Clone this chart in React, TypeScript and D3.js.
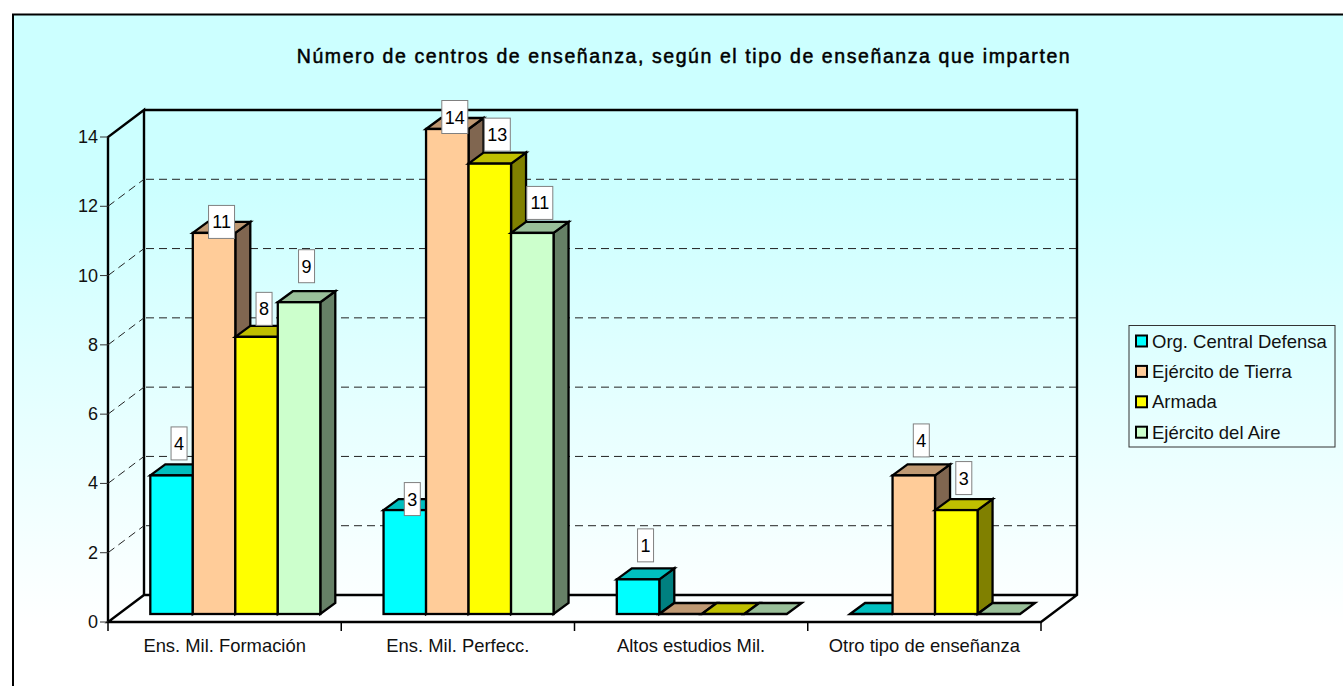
import React from "react";
import * as d3 from "d3";

const categories = ["Ens. Mil. Formación", "Ens. Mil. Perfecc.", "Altos estudios Mil.", "Otro tipo de enseñanza"];
const seriesNames = ["Org. Central Defensa", "Ejército de Tierra", "Armada", "Ejército del Aire"];
const orgCentral = [4, 3, 1, 0];
const tierra = [11, 14, 0, 4];
const armada = [8, 13, 0, 3];
const aire = [9, 11, 0, 0];
const yTicks = [0, 2, 4, 6, 8, 10, 12, 14];
const title = "Número de centros de enseñanza, según el tipo de enseñanza que imparten";

const seriesValues = [orgCentral, tierra, armada, aire];
const faceColors = ["#00FFFF", "#FFCC99", "#FFFF00", "#CCFFCC"];
const topColors = ["#00BFBF", "#BF9973", "#BFBF00", "#99BF99"];
const sideColors = ["#008080", "#806650", "#808000", "#668066"];
// Manual label lifts above the bar's front-top edge, [series][category]
const labelLift = [
  [32, 11, 34, 0],
  [11, 12, 0, 35],
  [28, 29, 0, 32],
  [36, 30, 0, 0],
];

const FONT = "'Liberation Sans', Arial, sans-serif";
const W = 1343, H = 686;
const left = 108, right = 1041, floorY = 622, topY = 137;
const depthX = 36, depthY = 27;
const barDX = 15, barDY = 11;

export default function App() {
  const x = d3.scaleBand<number>().domain(d3.range(categories.length)).range([left, right]);
  const inner = d3.scaleBand<number>().domain(d3.range(seriesNames.length))
    .range([42.3, 212.3]);
  const y = d3.scaleLinear().domain([0, 14]).range([floorY, topY]);
  const barBase = floorY - 8;
  const h = (v: number) => floorY - y(v);
  const poly = d3.line<[number, number]>();

  const bars: React.ReactNode[] = [];
  const labels: React.ReactNode[] = [];
  categories.forEach((_, c) => {
    seriesValues.forEach((vals, s) => {
      const v = vals[c];
      const x0 = x(c)! + inner(s)!;
      const bw = inner.bandwidth();
      const yt = barBase - h(v);
      bars.push(
        <g key={`${c}-${s}`} stroke="#000" strokeWidth={2.3} strokeLinejoin="miter">
          {v > 0 && <path d={poly([[x0 + bw, yt], [x0 + bw + barDX, yt - barDY], [x0 + bw + barDX, barBase - barDY], [x0 + bw, barBase]])! + "Z"} fill={sideColors[s]} />}
          <path d={poly([[x0, yt], [x0 + barDX, yt - barDY], [x0 + bw + barDX, yt - barDY], [x0 + bw, yt]])! + "Z"} fill={topColors[s]} />
          {v > 0 && <rect x={x0} y={yt} width={bw} height={h(v)} fill={faceColors[s]} />}
        </g>
      );
      if (v > 0) {
        const cx = x0 + bw / 2 + barDX / 2;
        const cy = yt - labelLift[s][c];
        const bwid = String(v).length > 1 ? 26 : 16;
        labels.push(
          <g key={`l${c}-${s}`}>
            <rect x={cx - bwid / 2} y={cy - 16.5} width={bwid} height={33} fill="#fff" stroke="#808080" strokeWidth={1} />
            <text x={cx} y={cy + 6.5} textAnchor="middle" fontSize={18} fill="#000">{v}</text>
          </g>
        );
      }
    });
  });

  return (
    <svg width={W} height={H} style={{ position: "absolute", left: 0, top: 0, display: "block" }} fontFamily={FONT}>
      <defs>
        <linearGradient id="bg" x1="0" y1="0" x2="0" y2="1">
          <stop offset="0" stopColor="#CCFFFF" />
          <stop offset="0.25" stopColor="#CCFFFF" />
          <stop offset="0.88" stopColor="#FFFFFF" />
          <stop offset="1" stopColor="#FFFFFF" />
        </linearGradient>
      </defs>
      <rect x={13} y={14.5} width={W + 10} height={H + 10} fill="url(#bg)" stroke="#000" strokeWidth={2} />
      <text x={684} y={63} textAnchor="middle" fontSize={19.5} letterSpacing={1.58} stroke="#000" strokeWidth={0.5}>{title}</text>

      {/* walls */}
      <g stroke="#000" strokeWidth={2.4} fill="none">
        <path d={poly([[left, floorY], [left, topY], [left + depthX, topY - depthY], [left + depthX, floorY - depthY]])!} />
        <path d={poly([[left + depthX, topY - depthY], [right + depthX, topY - depthY], [right + depthX, floorY - depthY], [right, floorY], [left, floorY], [left + depthX, floorY - depthY], [right + depthX, floorY - depthY]])!} />
      </g>
      {/* gridlines */}
      <g stroke="#222" strokeWidth={1} strokeDasharray="8 5" fill="none">
        {yTicks.slice(1, -1).map(t => (
          <g key={t}>
            <line x1={left + depthX + 2} x2={right + depthX - 1} y1={y(t) - depthY} y2={y(t) - depthY} />
            <line x1={left} y1={y(t)} x2={left + depthX} y2={y(t) - depthY} />
          </g>
        ))}
      </g>
      {/* ticks */}
      <g stroke="#333" strokeWidth={1}>
        {yTicks.map(t => <line key={t} x1={left - 8} x2={left} y1={y(t)} y2={y(t)} />)}
      </g>
      <g stroke="#000" strokeWidth={1.5}>
        {d3.range(categories.length + 1).map(i => {
          const px = left + i * x.step();
          return <line key={i} x1={px} x2={px} y1={floorY} y2={floorY + 9} />;
        })}
      </g>
      <g fontSize={18} fill="#111" textAnchor="end">
        {yTicks.map(t => <text key={t} x={98} y={y(t) + 6}>{t}</text>)}
      </g>
      <g fontSize={18.4} fill="#111" textAnchor="middle">
        {categories.map((c, i) => <text key={c} x={x(i)! + x.bandwidth() / 2} y={652}>{c}</text>)}
      </g>
      {bars}
      {labels}
      {/* legend */}
      <rect x={1129} y={325.5} width={206} height={121.5} fill="none" stroke="#333" strokeWidth={1} />
      {seriesNames.map((n, i) => {
        const cy = 341 + i * 30.4;
        return (
          <g key={n}>
            <rect x={1136} y={cy - 5.5} width={11} height={11} fill={faceColors[i]} stroke="#000" strokeWidth={2} />
            <text x={1152} y={cy + 6.5} fontSize={18.5} fill="#111">{n}</text>
          </g>
        );
      })}
    </svg>
  );
}
